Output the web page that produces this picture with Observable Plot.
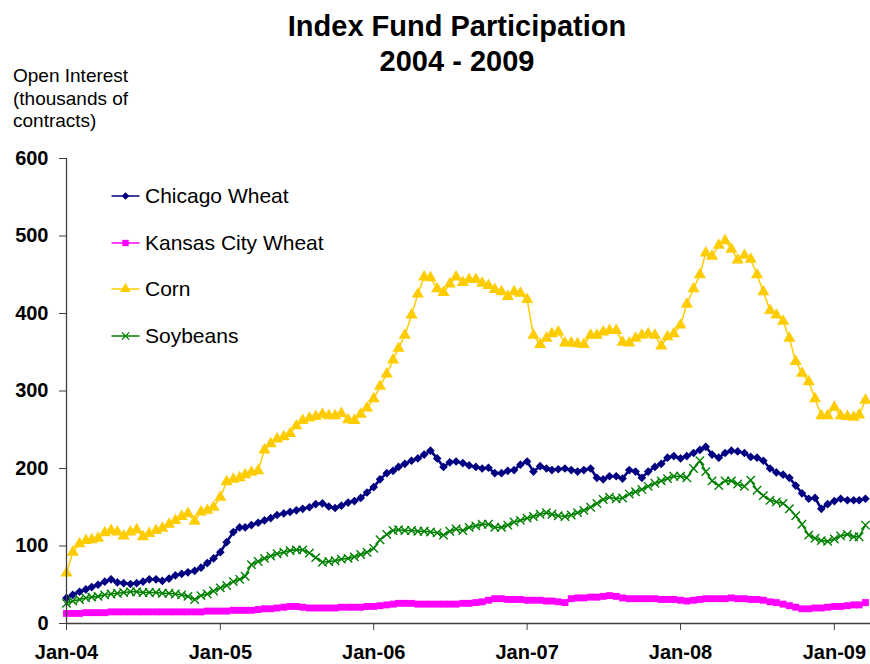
<!DOCTYPE html>
<html>
<head>
<meta charset="utf-8">
<script src="https://cdn.jsdelivr.net/npm/d3@7"></script>
<script src="https://cdn.jsdelivr.net/npm/@observablehq/plot@0.6"></script>
<style>
  body { margin: 0; background: #fff; }
  #wrap { position: relative; width: 870px; height: 664px; overflow: hidden; font-family: "Liberation Sans", Arial, sans-serif; color: #000; background: #fff; }
  #chart { position: absolute; left: 0; top: 0; }
  #title { position: absolute; left: 0; top: 8.5px; width: 914px; text-align: center; font-weight: bold; font-size: 29px; line-height: 35px; }
  #ylabel { position: absolute; left: 13px; top: 65px; font-size: 19px; line-height: 22.5px; }
  .leg { position: absolute; left: 111px; height: 24px; display: flex; align-items: center; font-size: 21px; white-space: nowrap; }
  .leg svg { display: block; margin-right: 5px; }
</style>
</head>
<body>
<div id="wrap">
  <div id="chart"></div>
  <div id="title">Index Fund Participation<br>2004 - 2009</div>
  <div id="ylabel">Open Interest<br>(thousands of<br>contracts)</div>
  <div id="legend"></div>
</div>
<script>
// ---- Data (thousands of contracts), semi-monthly readings (1st and 16th of each month), Jan 2004 - Mar 2009
const startYear = 2004, startMonth = 0, nPoints = 126;
const dates = [];
for (let i = 0; i < nPoints; i++) {
  const m = Math.floor(i / 2);
  dates.push(new Date(Date.UTC(startYear, startMonth + m, i % 2 === 0 ? 1 : 16)));
}

const seriesNames = ["Chicago Wheat", "Kansas City Wheat", "Corn", "Soybeans"];

const chicagoWheat = [
  33, 37, 41, 44, 47, 50, 54, 57, 53, 52, 51, 52, 54, 57, 57, 55, 58, 62, 64, 66, 68, 72, 78, 84,
  92, 105, 118, 124, 124, 127, 130, 133, 136, 140, 142, 144, 146, 148, 150, 154, 155, 151, 149, 152, 156, 158, 162, 169,
  176, 186, 194, 197, 202, 206, 210, 213, 218, 223, 213, 202, 208, 209, 207, 204, 202, 200, 201, 194, 194, 197, 198, 205,
  209, 196, 203, 200, 198, 199, 200, 198, 196, 198, 200, 188, 186, 190, 190, 187, 198, 196, 188, 196, 202, 206, 214, 216,
  213, 216, 220, 224, 228, 218, 214, 220, 223, 222, 220, 215, 214, 210, 200, 195, 192, 188, 178, 168, 161, 162, 148, 154,
  158, 161, 159, 159, 159, 161
];

const kansasCityWheat = [
  13, 13, 13, 14, 14, 14, 14, 15, 15, 15, 15, 15, 15, 15, 15, 15, 15, 15, 15, 15, 15, 15, 16, 16,
  16, 16, 17, 17, 17, 17, 18, 19, 19, 20, 21, 22, 22, 21, 20, 20, 20, 20, 20, 21, 21, 21, 21, 22,
  22, 23, 24, 25, 26, 26, 26, 25, 25, 25, 25, 25, 25, 25, 26, 26, 27, 28, 30, 32, 32, 31, 31, 31,
  30, 30, 30, 29, 29, 28, 27, 32, 33, 33, 34, 34, 35, 36, 35, 33, 32, 32, 32, 32, 32, 31, 31, 31,
  30, 29, 30, 31, 32, 32, 32, 32, 33, 32, 32, 31, 31, 30, 28, 27, 25, 23, 21, 19, 19, 20, 20, 21,
  22, 22, 23, 24, 24, 27
];

const corn = [
  65, 92, 103, 107, 108, 110, 117, 120, 118, 113, 118, 121, 112, 116, 120, 123, 128, 133, 138, 142, 132, 144, 146, 150,
  163, 183, 186, 188, 192, 195, 197, 224, 232, 238, 241, 245, 255, 262, 265, 267, 270, 268, 268, 271, 263, 262, 270, 278,
  290, 306, 322, 340, 355, 372, 398, 425, 447, 446, 432, 427, 438, 447, 440, 444, 444, 439, 436, 431, 428, 422, 428, 426,
  418, 372, 360, 368, 374, 376, 362, 362, 361, 360, 372, 372, 376, 378, 378, 363, 362, 368, 372, 374, 372, 358, 370, 374,
  385, 412, 432, 450, 478, 474, 488, 494, 483, 469, 475, 470, 450, 428, 404, 398, 390, 368, 338, 323, 312, 290, 268, 268,
  279, 268, 267, 266, 269, 288
];

const soybeans = [
  26, 29, 31, 33, 34, 35, 37, 38, 39, 40, 41, 41, 40, 40, 40, 39, 39, 38, 37, 35, 31, 36, 38, 42,
  46, 49, 54, 57, 61, 76, 80, 84, 87, 90, 92, 94, 95, 95, 91, 85, 79, 80, 81, 83, 84, 86, 89, 92,
  97, 108, 115, 120, 121, 120, 120, 119, 119, 118, 117, 114, 119, 122, 120, 124, 126, 128, 128, 124, 124, 127, 131, 133,
  136, 138, 141, 143, 141, 139, 138, 140, 143, 146, 150, 155, 160, 163, 161, 162, 167, 170, 173, 177, 181, 184, 187, 190,
  190, 188, 200, 210, 196, 184, 178, 184, 184, 180, 177, 185, 172, 165, 159, 157, 155, 148, 139, 128, 114, 110, 107, 106,
  109, 113, 115, 112, 112, 127
];

const yTicks = [0, 100, 200, 300, 400, 500, 600];
const xTickLabels = ["Jan-04", "Jan-05", "Jan-06", "Jan-07", "Jan-08", "Jan-09"];
const xTickDates = [2004, 2005, 2006, 2007, 2008, 2009].map(y => new Date(Date.UTC(y, 0, 1)));

// ---- Styles per series
const styles = {
  "Chicago Wheat":     {color: "#000080", symbol: "diamond2", r: 3.9, filled: true,  lineWidth: 2.6},
  "Kansas City Wheat": {color: "#FF00FF", symbol: "square",   r: 3.9, filled: true,  lineWidth: 3.6},
  "Corn":              {color: "#FFCC00", symbol: "triangle", r: 4.5, filled: true,  lineWidth: 1.5},
  "Soybeans":          {color: "#008000", symbol: "times",    r: 3.9, filled: false, lineWidth: 1.6}
};
const valuesBySeries = {
  "Chicago Wheat": chicagoWheat,
  "Kansas City Wheat": kansasCityWheat,
  "Corn": corn,
  "Soybeans": soybeans
};

const xDomain = [new Date(Date.UTC(2004, 0, 1)), new Date(Date.UTC(2009, 2, 28))];

const marks = [];
for (const name of seriesNames) {
  const s = styles[name];
  const rows = dates.map((d, i) => ({date: d, value: valuesBySeries[name][i], series: name}));
  marks.push(Plot.line(rows, {x: "date", y: "value", stroke: s.color, strokeWidth: s.lineWidth}));
  marks.push(Plot.dot(rows, s.filled
    ? {x: "date", y: "value", symbol: () => s.symbol, r: s.r, fill: s.color, stroke: "none"}
    : {x: "date", y: "value", symbol: () => s.symbol, r: s.r, stroke: s.color, strokeWidth: 1.4, fill: "none"}));
}

const labelByTime = new Map(xTickDates.map((d, i) => [+d, xTickLabels[i]]));

const chart = Plot.plot({
  width: 870,
  height: 664,
  marginTop: 158,
  marginBottom: 41,
  marginLeft: 66,
  marginRight: 0,
  style: {fontFamily: "'Liberation Sans', Arial, sans-serif", color: "#000", background: "#fff"},
  x: {type: "utc", domain: xDomain},
  y: {domain: [0, 600]},
  symbol: {type: "identity"},
  marks: [
    Plot.axisY({ticks: yTicks, tickSize: 7, tickPadding: 11, fontSize: 20, fontWeight: "bold", label: null, stroke: "#404040"}),
    Plot.axisX({ticks: xTickDates, tickFormat: d => labelByTime.get(+d), tickSize: 7, tickPadding: 14, fontSize: 20, fontWeight: "bold", label: null, stroke: "#404040"}),
    ...marks,
    Plot.ruleX([xDomain[0]], {stroke: "#404040", strokeWidth: 1.3}),
    Plot.ruleY([0], {stroke: "#404040", strokeWidth: 1.3})
  ]
});
document.getElementById("chart").appendChild(chart);

// ---- Legend
const legend = d3.select("#legend");
const legendCenters = [196, 242.7, 289.3, 336];
const symPath = {
  "Chicago Wheat": d3.symbol(d3.symbolDiamond2, 36)(),
  "Kansas City Wheat": d3.symbol(d3.symbolSquare, 40)(),
  "Corn": d3.symbol(d3.symbolTriangle, 50)(),
  "Soybeans": d3.symbol(d3.symbolTimes, 36)()
};
seriesNames.forEach((name, i) => {
  const s = styles[name];
  const row = legend.append("div").attr("class", "leg").style("top", (legendCenters[i] - 12) + "px");
  const svg = row.append("svg").attr("width", 29).attr("height", 24);
  svg.append("line").attr("x1", 0.5).attr("x2", 28.5).attr("y1", 12).attr("y2", 12)
    .attr("stroke", s.color).attr("stroke-width", 1.5);
  const p = svg.append("path").attr("d", symPath[name]).attr("transform", "translate(14.5,12)");
  if (s.filled) p.attr("fill", s.color); else p.attr("fill", "none").attr("stroke", s.color).attr("stroke-width", 1.3);
  row.append("span").text(name);
});
</script>
</body>
</html>
